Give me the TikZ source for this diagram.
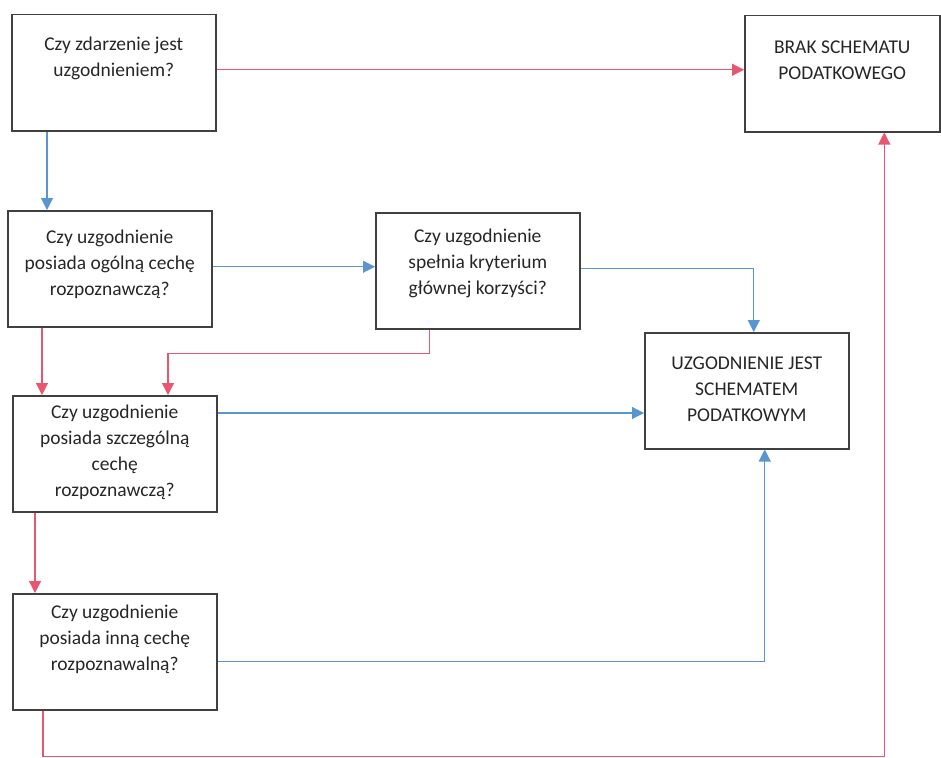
\documentclass[tikz,border=0pt]{standalone}
\usepackage{fontspec}
\setmainfont{Carlito}
\usetikzlibrary{arrows.meta,calc}
\definecolor{nieRed}{RGB}{232,86,112}
\definecolor{takBlue}{RGB}{88,150,210}
\tikzstyle{question}=[draw=black!75,line width=1.5pt,inner sep=0pt,anchor=north west]
\tikzstyle{noedge} = [draw,nieRed,line width=1.1pt,-{Triangle[length=12pt,width=12pt]}]
\tikzstyle{yesedge} = [draw,takBlue,line width=1.1pt,-{Triangle[length=12pt,width=12pt]}]
\newcommand{\boxtext}[3][204pt]{\parbox[c][116pt][t]{#1}{\centering\vspace*{#2}\strut#3}}

\begin{document}
\begin{tikzpicture}[x=1pt,y=-1pt,font=\fontsize{19.5}{26}\selectfont,color=black!85]
    \useasboundingbox (0,0) rectangle (941,757);

    % pytania i wyniki
    \node[question] (A) at (11,14) {\boxtext{18pt}{Czy zdarzenie jest\\uzgodnieniem?}};
    \node[question] (B) at (744,15) {\boxtext[195pt]{20pt}{BRAK SCHEMATU\\PODATKOWEGO}};
    \node[question] (C) at (7,210) {\boxtext{15pt}{Czy uzgodnienie\\posiada ogólną cechę\\rozpoznawczą?}};
    \node[question] (D) at (375,212) {\boxtext{12pt}{Czy uzgodnienie\\spełnia kryterium\\głównej korzyści?}};
    \node[question] (E) at (644,332) {\boxtext{19pt}{UZGODNIENIE JEST\\SCHEMATEM\\PODATKOWYM}};
    \node[question] (F) at (12,395) {\boxtext{5pt}{Czy uzgodnienie\\posiada szczególną\\cechę\\rozpoznawczą?}};
    \node[question] (G) at (12,593) {\boxtext{7pt}{Czy uzgodnienie\\posiada inną cechę\\rozpoznawalną?}};

    % odpowiedzi: tak (niebieskie) i nie (czerwone)
    \path[noedge] ([yshift=3pt]A.east) -- ([yshift=3pt]A.east -| B.west);
    \path[yesedge] ([xshift=36pt]A.south west) -- ([xshift=36pt]A.south west |- C.north);
    \path[yesedge] ([yshift=2pt]C.east) -- ([yshift=2pt]C.east -| D.west);
    \path[yesedge] ([yshift=2pt]D.east) -| ([xshift=7pt]E.north);
    \path[noedge] ([xshift=-48pt]D.south) -- ++(0,24) -| ([xshift=156pt]F.north west);
    \path[noedge] ([xshift=35pt]C.south west) -- ([xshift=35pt]C.south west |- F.north);
    \path[yesedge] ([yshift=-18pt]F.north east) -- ([yshift=-18pt]F.north east -| E.west);
    \path[noedge] ([xshift=23pt]F.south west) -- ([xshift=23pt]F.south west |- G.north);
    \path[yesedge] ([yshift=-10pt]G.east) -| ([xshift=18pt]E.south);
    \path[noedge] ([xshift=31pt]G.south west) -- ++(0,46) -| ([xshift=42pt]B.south);

\end{tikzpicture}
\end{document}
